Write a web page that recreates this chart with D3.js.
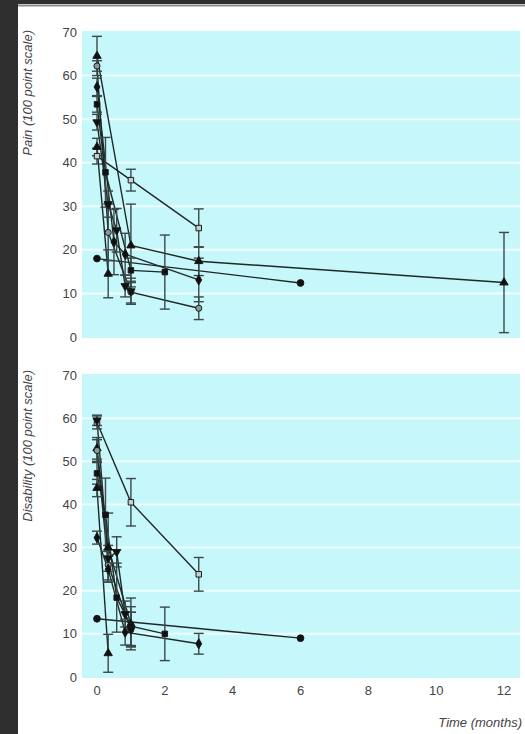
<!DOCTYPE html>
<html><head><meta charset="utf-8">
<script src="https://cdn.jsdelivr.net/npm/d3@7"></script>
<style>
html,body{margin:0;padding:0;background:#fff;}
svg{display:block;}
text{font-family:"Liberation Sans Narrow","Liberation Sans",Arial,sans-serif;}
</style></head><body><svg id="c" width="525" height="734"></svg>
<script>
// ---------- data ----------
const xTickValues = [0, 2, 4, 6, 8, 10, 12];
const yTickValues = [0, 10, 20, 30, 40, 50, 60, 70];
const panelTitles = ["Pain (100 point scale)", "Disability (100 point scale)"];
const xAxisTitle = "Time (months)";
const seriesNames = ["openSquare", "triangleA", "openCircle", "diamond", "filledSquare", "invTriangle", "triangleB", "filledCircle"];

// each point: [time (months), mean score, error half-width]
const painOpenSquare   = [[0, 41.5, 1.8], [1, 36, 2.5], [3, 25, 4.4]];
const painTriangleA    = [[0, 64.5, 4.5], [1, 21, 9.5], [3, 17.4, 3.3], [12, 12.5, 11.5]];
const painOpenCircle   = [[0, 62.2, 1.2], [0.33, 24, 6.5], [1, 10.3, 2.5], [3, 6.6, 2.6]];
const painDiamond      = [[0, 57.4, 2], [0.5, 21.8, 7.5], [0.83, 19, 4.8], [3, 13.1, 5]];
const painFilledSquare = [[0, 53.4, 1.8], [0.25, 37.8, 8], [1, 15.3, 2.8], [2, 14.9, 8.5]];
const painInvTriangle  = [[0, 49.3, 1.8], [0.33, 30.5, 3], [0.58, 24.5, 5], [0.83, 11.7, 2.5], [1, 10.5, 3]];
const painTriangleB    = [[0, 43.6, 2], [0.33, 14.5, 5.5]];
const painFilledCircle = [[0, 18, 0], [6, 12.4, 0]];

const disOpenSquare   = [[0, 59, 1.5], [1, 40.5, 5.5], [3, 23.8, 3.9]];
const disTriangleA    = [[0, 53, 2.5], [0.33, 30, 8], [1, 12.3, 6]];
const disOpenCircle   = [[0, 52.5, 2.5], [0.33, 26, 3.5], [1, 11, 4]];
const disDiamond      = [[0, 32.3, 1.5], [0.33, 25, 3], [0.83, 10.4, 3], [3, 7.7, 2.4]];
const disFilledSquare = [[0, 47.2, 2.5], [0.25, 37.6, 8.5], [0.58, 18.4, 8], [1, 11.8, 4.5], [2, 10, 6.2]];
const disInvTriangle  = [[0, 59.5, 1.2], [0.33, 27.5, 3], [0.58, 29, 3.5], [0.83, 14.6, 3], [1, 11, 4]];
const disTriangleB    = [[0, 43.8, 2], [0.33, 5.5, 4.4]];
const disFilledCircle = [[0, 13.5, 0], [6, 9, 0]];

const painSeries = [painOpenSquare, painTriangleA, painOpenCircle, painDiamond, painFilledSquare, painInvTriangle, painTriangleB, painFilledCircle];
const disSeries  = [disOpenSquare, disTriangleA, disOpenCircle, disDiamond, disFilledSquare, disInvTriangle, disTriangleB, disFilledCircle];

// ---------- styles ----------
const markerStyle = {
  openSquare:   {type: d3.symbolSquare,   size: 30, fill: "#c2d2d2", rot: 0},
  triangleA:    {type: d3.symbolTriangle, size: 30, fill: "#111", rot: 0},
  openCircle:   {type: d3.symbolCircle,   size: 30, fill: "#8a9a9a", rot: 0},
  diamond:      {type: d3.symbolDiamond,  size: 30, fill: "#111", rot: 0},
  filledSquare: {type: d3.symbolSquare,   size: 30, fill: "#111", rot: 0},
  invTriangle:  {type: d3.symbolTriangle, size: 30, fill: "#111", rot: 180},
  triangleB:    {type: d3.symbolTriangle, size: 30, fill: "#111", rot: 0},
  filledCircle: {type: d3.symbolCircle,   size: 36, fill: "#111", rot: 0}
};

const svg = d3.select("#c");
// page frame
svg.append("rect").attr("x", 0).attr("y", 0).attr("width", 525).attr("height", 734).attr("fill", "#fff");
svg.append("rect").attr("x", 0).attr("y", 0).attr("width", 525).attr("height", 4).attr("fill", "#2f2f2f");
svg.append("rect").attr("x", 0).attr("y", 0).attr("width", 18).attr("height", 734).attr("fill", "#2f2f2f");
svg.append("line").attr("x1", 18).attr("x2", 525).attr("y1", 5.5).attr("y2", 5.5).attr("stroke", "#8c8c8c").attr("stroke-width", 2);

const x = d3.scaleLinear().domain([0, 12]).range([97, 504]);
const panels = [
  {series: painSeries, range: [337, 32], title: panelTitles[0], titleTop: 30},
  {series: disSeries,  range: [677, 375], title: panelTitles[1], titleTop: 370}
];

panels.forEach((p, pi) => {
  const y = d3.scaleLinear().domain([0, 70]).range(p.range);
  const g = svg.append("g");
  // background
  g.append("rect").attr("x", 82).attr("width", 438)
    .attr("y", y(70) - 1).attr("height", y(0) - y(70) + 2)
    .attr("fill", "#c6f7fa");
  // gridlines
  g.selectAll(".grid").data(yTickValues.filter(d => d > 0 && d < 70)).join("line")
    .attr("x1", 82).attr("x2", 520)
    .attr("y1", d => y(d)).attr("y2", d => y(d))
    .attr("stroke", "#eefdfe").attr("stroke-width", 2);
  // y tick labels
  g.selectAll(".yt").data(yTickValues).join("text")
    .attr("x", 77).attr("y", d => y(d)).attr("dy", "0.35em")
    .attr("text-anchor", "end").attr("font-size", 13).attr("fill", "#444")
    .text(d => d);
  // y title
  g.append("text")
    .attr("transform", `translate(32,${p.titleTop}) rotate(-90)`)
    .attr("text-anchor", "end").attr("font-size", 13).attr("font-style", "italic")
    .attr("fill", "#444").text(p.title);

  const line = d3.line().x(d => x(d[0])).y(d => y(d[1]));
  // lines
  p.series.forEach(s => {
    g.append("path").attr("d", line(s)).attr("fill", "none")
      .attr("stroke", "#1f2828").attr("stroke-width", 1.4);
  });
  // error bars
  p.series.forEach(s => {
    const eb = g.append("g").attr("stroke", "#3a4848").attr("stroke-width", 1.4);
    s.filter(d => d[2] > 0).forEach(d => {
      const cx = x(d[0]);
      eb.append("line").attr("x1", cx).attr("x2", cx).attr("y1", y(d[1] - d[2])).attr("y2", y(d[1] + d[2]));
      eb.append("line").attr("x1", cx - 5).attr("x2", cx + 5).attr("y1", y(d[1] - d[2])).attr("y2", y(d[1] - d[2]));
      eb.append("line").attr("x1", cx - 5).attr("x2", cx + 5).attr("y1", y(d[1] + d[2])).attr("y2", y(d[1] + d[2]));
    });
  });
  // markers
  p.series.forEach((s, si) => {
    const st = markerStyle[seriesNames[si]];
    g.selectAll(null).data(s).join("path")
      .attr("d", d3.symbol().type(st.type).size(st.size))
      .attr("transform", d => `translate(${x(d[0])},${y(d[1])}) rotate(${st.rot})`)
      .attr("fill", st.fill).attr("stroke", "#1a1a1a").attr("stroke-width", 1);
  });
});

// x tick labels
svg.selectAll(".xt").data(xTickValues).join("text")
  .attr("x", d => x(d)).attr("y", 690).attr("dy", "0.35em")
  .attr("text-anchor", "middle").attr("font-size", 13).attr("fill", "#444")
  .text(d => d);
svg.append("text").attr("x", 522).attr("y", 727)
  .attr("text-anchor", "end").attr("font-size", 13).attr("font-style", "italic")
  .attr("fill", "#444").text(xAxisTitle);
</script></body></html>
